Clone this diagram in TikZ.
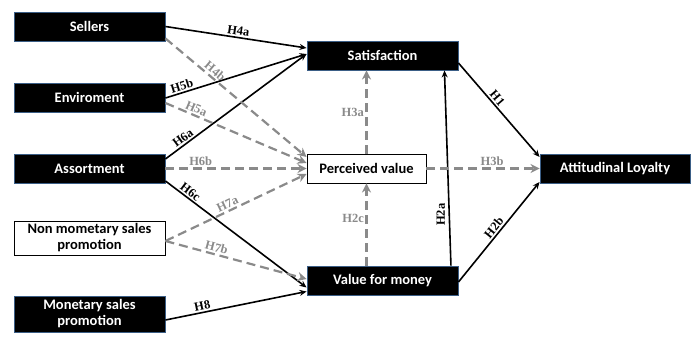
\documentclass[tikz,border=0pt]{standalone}
\usepackage{fontspec}
\setmainfont{Liberation Serif}
\newfontfamily\boxfont{Carlito}
\usetikzlibrary{arrows.meta,calc}
\definecolor{edgeblue}{HTML}{3B5E86}
\definecolor{dgray}{HTML}{8A8A8A}
\begin{document}
\begin{tikzpicture}[x=1pt,y=-1pt,
  blackbox/.style={draw=edgeblue,line width=0.9pt,fill=black,text=white,
    font=\boxfont\bfseries\fontsize{14.5}{16}\selectfont,inner sep=0pt,align=center},
  whitebox/.style={draw=black,line width=0.9pt,fill=white,text=black,
    font=\boxfont\bfseries\fontsize{14.5}{16}\selectfont,inner sep=0pt,align=center},
  solidarr/.style={draw=black,line width=1.6pt,-{Stealth[length=7pt,width=6pt]}},
  dasharr/.style={draw=dgray,line width=2.2pt,dash pattern=on 9pt off 5pt,-{Stealth[length=9pt,width=9pt]}},
  blab/.style={font=\bfseries\fontsize{12.5}{13}\selectfont,text=black,inner sep=1.5pt},
  glab/.style={font=\bfseries\fontsize{12.5}{13}\selectfont,text=dgray,inner sep=1.5pt}]
\useasboundingbox (0,0) rectangle (698,337);
% nodes
\node[blackbox,minimum width=151pt,minimum height=29pt] (sel) at (89.5,26.5) {Sellers};
\node[blackbox,minimum width=151pt,minimum height=29pt] (env) at (89.5,97.5) {Enviroment};
\node[blackbox,minimum width=151pt,minimum height=29pt] (ass) at (89.5,168.5) {Assortment};
\node[whitebox,minimum width=151pt,minimum height=34pt] (nms) at (89.5,238) {Non mometary sales\\promotion};
\node[blackbox,minimum width=151pt,minimum height=36pt] (ms) at (89.5,314) {Monetary sales\\promotion};
\node[blackbox,minimum width=151pt,minimum height=29pt] (sat) at (382.5,55.5) {Satisfaction};
\node[whitebox,minimum width=119pt,minimum height=29pt] (pv) at (366.5,168.5) {Perceived value};
\node[blackbox,minimum width=151pt,minimum height=29pt] (vfm) at (382.5,280.5) {Value for money};
\node[blackbox,minimum width=150pt,minimum height=29pt] (al) at (615,168.5) {Attitudinal Loyalty};
% solid arrows
\draw[solidarr] (sel.east) -- node[blab,pos=0.51,sloped,above]{H4a} ([yshift=7.5pt]sat.west);
\draw[solidarr] ([yshift=-0.5pt]env.east) -- node[blab,pos=0.13,sloped,above]{H5b} ([yshift=1.5pt]sat.west);
\draw[solidarr] ([yshift=9.5pt]ass.east) -- node[blab,pos=0.15,sloped,above]{H6a} ([yshift=1.5pt]sat.west);
\draw[solidarr] ([yshift=-12.5pt]ass.east) -- node[blab,pos=0.15,sloped,above]{H6c} ([yshift=-7pt]vfm.west);
\draw[solidarr] ([yshift=-6pt]ms.east) -- node[blab,pos=0.27,sloped,above]{H8} ([yshift=-11pt]vfm.west);
\draw[solidarr] ([xshift=-7.5pt]vfm.north east) -- node[blab,pos=0.26,rotate=90,anchor=south,yshift=2pt]{H2a} ([xshift=-14pt]sat.south east);
\draw[solidarr] ([yshift=-7.5pt]sat.east) -- node[blab,pos=0.42,sloped,above]{H1} ([yshift=11.5pt]al.west);
\draw[solidarr] ([yshift=-1.5pt]vfm.east) -- node[blab,pos=0.5,sloped,above]{H2b} ([yshift=-13.5pt]al.west);
% dashed arrows
\draw[dasharr] ([yshift=3pt]sel.south east) -- node[glab,pos=0.32,sloped,above]{H4b} ([yshift=11.5pt]pv.west);
\draw[dasharr] ([yshift=-5.5pt]env.east) -- node[glab,pos=0.2,sloped,above]{H5a} ([yshift=5.5pt]pv.west);
\draw[dasharr] (ass.east) -- node[glab,pos=0.25,above]{H6b} (pv.west);
\draw[dasharr] ([yshift=-3pt]nms.east) -- node[glab,pos=0.46,sloped,above]{H7a} ([yshift=-5.5pt]pv.west);
\draw[dasharr] ([yshift=-3pt]nms.east) -- node[glab,pos=0.35,sloped,above]{H7b} ([yshift=1.5pt]vfm.west);
\draw[dasharr] (pv.north) -- node[glab,pos=0.5,left]{H3a} (pv.north |- sat.south);
\draw[dasharr] (pv.south |- vfm.north) -- node[glab,pos=0.58,left]{H2c} (pv.south);
\draw[dasharr] (pv.east) -- node[glab,pos=0.58,above]{H3b} (al.west);
\end{tikzpicture}
\end{document}
